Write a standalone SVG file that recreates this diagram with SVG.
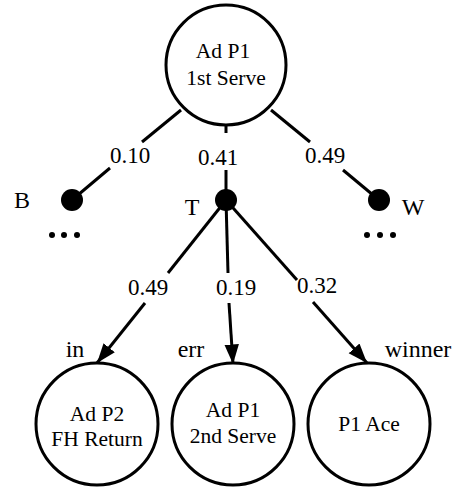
<svg xmlns="http://www.w3.org/2000/svg" width="454" height="492" viewBox="0 0 454 492">
<defs>
<style>
.node{fill:#fff;stroke:#000;stroke-width:3}
.dot{fill:#000}
.edge{stroke:#000;stroke-width:3;fill:none}
text{font-family:'Liberation Serif','Times New Roman','DejaVu Serif',serif;fill:#000;text-anchor:middle}
.nt{font-size:21.5px}
.lb{font-size:23px}
.lt{font-size:24px}
</style>
<marker id="ah" viewBox="0 0 10 10" refX="10" refY="5" markerWidth="6.5" markerHeight="6.5" markerUnits="strokeWidth" orient="auto">
<path d="M0,1.3 L10,5 L0,8.7 z" fill="#000"/>
</marker>
</defs>
<rect width="454" height="492" fill="#fff"/>
<g id="connectors">
<line class="edge" x1="181" y1="110" x2="142" y2="142"/>
<line class="edge" x1="110" y1="168" x2="72" y2="200"/>
<line class="edge" x1="226" y1="125" x2="226" y2="133"/>
<line class="edge" x1="226" y1="170" x2="226" y2="200"/>
<line class="edge" x1="271" y1="110" x2="310" y2="142"/>
<line class="edge" x1="343" y1="170" x2="379" y2="200"/>
<line class="edge" x1="226" y1="200" x2="168" y2="273"/>
<line class="edge" x1="145" y1="303" x2="97" y2="363" marker-end="url(#ah)"/>
<line class="edge" x1="226" y1="200" x2="228" y2="273"/>
<line class="edge" x1="229" y1="303" x2="233" y2="364" marker-end="url(#ah)"/>
<line class="edge" x1="226" y1="200" x2="297" y2="280"/>
<line class="edge" x1="313" y1="302" x2="367" y2="363" marker-end="url(#ah)"/>
<text class="lb" x="130" y="163">0.10</text>
<text class="lb" x="218" y="165">0.41</text>
<text class="lb" x="325" y="163">0.49</text>
<text class="lb" x="148" y="295">0.49</text>
<text class="lb" x="236" y="295">0.19</text>
<text class="lb" x="317" y="293">0.32</text>
</g>
<g id="n-root">
<circle class="node" cx="226" cy="65" r="60"/>
<text class="nt" x="223" y="58">Ad P1</text>
<text class="nt" x="226" y="85">1st Serve</text>
</g>
<g id="n-B">
<circle class="dot" cx="72" cy="200" r="11"/>
<text class="lt" x="22" y="208">B</text>
<circle class="dot" cx="52" cy="235" r="3"/>
<circle class="dot" cx="64" cy="235" r="3"/>
<circle class="dot" cx="77" cy="235" r="3"/>
</g>
<g id="n-T">
<circle class="dot" cx="226" cy="200" r="11"/>
<text class="lt" x="192" y="215">T</text>
</g>
<g id="n-W">
<circle class="dot" cx="379" cy="200" r="11"/>
<text class="lt" x="413" y="215">W</text>
<circle class="dot" cx="367" cy="235" r="3"/>
<circle class="dot" cx="380" cy="235" r="3"/>
<circle class="dot" cx="393" cy="235" r="3"/>
</g>
<g id="n-return">
<circle class="node" cx="97" cy="424" r="61"/>
<text class="lt" x="75" y="357">in</text>
<text class="nt" x="97" y="421">Ad P2</text>
<text class="nt" x="97" y="446">FH Return</text>
</g>
<g id="n-second">
<circle class="node" cx="233" cy="424" r="61"/>
<text class="lt" x="191" y="357">err</text>
<text class="nt" x="233" y="417">Ad P1</text>
<text class="nt" x="233" y="443">2nd Serve</text>
</g>
<g id="n-ace">
<circle class="node" cx="369" cy="424" r="61"/>
<text class="lt" x="418" y="357">winner</text>
<text class="nt" x="369" y="431">P1 Ace</text>
</g>
</svg>
